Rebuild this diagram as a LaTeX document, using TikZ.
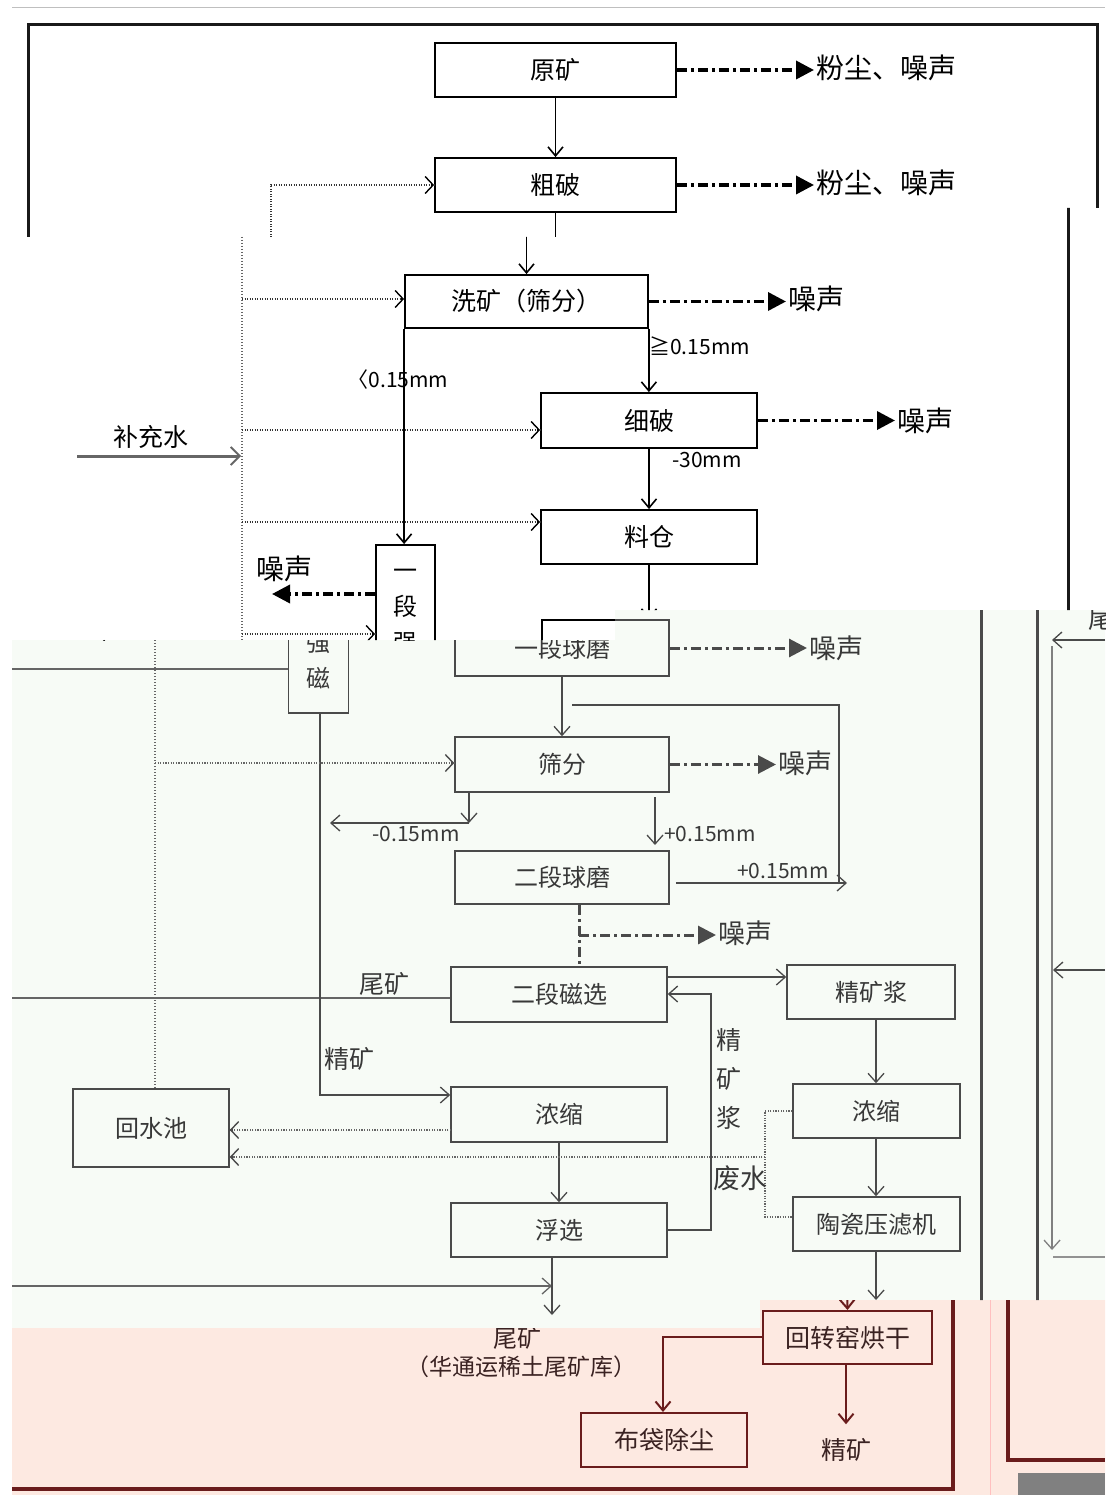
\documentclass[tikz,border=0pt]{standalone}
\usepackage{fontspec}
\newfontfamily\cjk{Noto Sans CJK SC}
\usetikzlibrary{arrows.meta}
\definecolor{bgC}{HTML}{F7FBF6}
\definecolor{bgD}{HTML}{FDE9E1}
\definecolor{gC}{HTML}{4A4A4A}
\definecolor{tC}{HTML}{383838}
\definecolor{rD}{HTML}{6A1C1C}
\definecolor{tD}{HTML}{3A2222}
\begin{document}
\begin{tikzpicture}[x=1pt,y=-1pt,
  bx/.style={draw, inner sep=0pt, align=center},
  bA/.style={bx, line width=1.8pt, font=\cjk\fontsize{25}{25}\selectfont},
  bAv/.style={bx, line width=1.8pt, font=\cjk\fontsize{24}{36}\selectfont},
  bC/.style={bx, line width=1.5pt, draw=gC, text=tC, font=\cjk\fontsize{24}{24}\selectfont},
  bCv/.style={bx, line width=1.5pt, draw=gC, text=tC, font=\cjk\fontsize{24}{36}\selectfont},
  bD/.style={bx, line width=2pt, draw=rD, text=tD, font=\cjk\fontsize{25}{25}\selectfont},
  lbA/.style={inner sep=0pt, font=\cjk\fontsize{25}{25}\selectfont},
  lbB/.style={inner sep=0pt, font=\cjk\fontsize{28}{28}\selectfont},
  lbS/.style={inner sep=0pt, font=\cjk\fontsize{21}{21}\selectfont},
  lbC/.style={inner sep=0pt, text=tC, font=\cjk\fontsize{25}{25}\selectfont},
  lbCb/.style={inner sep=0pt, text=tC, font=\cjk\fontsize{27}{27}\selectfont},
  lbCs/.style={inner sep=0pt, text=tC, font=\cjk\fontsize{21}{21}\selectfont},
  lbD/.style={inner sep=0pt, text=tD, font=\cjk\fontsize{24}{24}\selectfont},
  ar/.style={line width=1.6pt, -{Straight Barb[length=9pt,width=15pt]}},
  arC/.style={line width=1.3pt, draw=gC, -{Straight Barb[length=9pt,width=16pt]}},
  arD/.style={line width=2pt, draw=rD, -{Straight Barb[length=9pt,width=15pt]}},
  lnC/.style={line width=1.3pt, draw=gC},
  dd/.style={line width=3.5pt, dash pattern=on 10pt off 4pt on 3pt off 4pt,
     -{Triangle[length=18pt,width=18pt]}, shorten >=2pt},
  ddC/.style={line width=3pt, draw=gC, dash pattern=on 10pt off 4pt on 3pt off 4pt,
     -{Triangle[length=18pt,width=18pt,fill=gC]}, shorten >=2pt},
  ddL/.style={line width=3pt, draw=gC, dash pattern=on 10pt off 4pt on 3pt off 4pt},
  dtA/.style={line width=2.6pt, draw=black!80, dash pattern=on 1.2pt off 1.3pt},
  dtV/.style={line width=1.4pt, draw=black!60, dash pattern=on 1pt off 2pt},
  dtC/.style={line width=1.8pt, draw=gC!85, dash pattern=on 1.2pt off 1.4pt},
  dtip/.style={-{Straight Barb[length=8pt,width=17pt,line width=1.4pt]}},
  frame/.style={line width=3pt, draw=black!90},
  frameC/.style={line width=3pt, draw=gC},
  frameD/.style={line width=3.5pt, draw=rD}
]
\useasboundingbox (0,0) rectangle (1105,1495);
\fill[white] (0,0) rectangle (1105,1495);
\fill[bgC] (12,640) -- (615,640) -- (615,610) -- (1105,610) -- (1105,1300) -- (760,1300) -- (760,1328) -- (12,1328) -- cycle;
\fill[bgD] (12,1328) -- (760,1328) -- (760,1300) -- (1105,1300) -- (1105,1495) -- (12,1495) -- cycle;

% ---------------- band 1 ----------------
\begin{scope}
\clip (0,0) -- (1105,0) -- (1105,208) -- (680,208) -- (680,237) -- (0,237) -- cycle;
\coordinate (g1) at (12,8); \coordinate (g2) at (1105,8);
\draw[line width=1pt, black!25] (g1) -- (g2);
\coordinate (f1a) at (28,240); \coordinate (f1b) at (28,25);
\coordinate (f1c) at (1097,25); \coordinate (f1d) at (1097,240);
\draw[frame] (f1a) -- (f1b) -- (f1c) -- (f1d);
\node[bA, minimum width=241pt, minimum height=54pt] (yk) at (555.5,70) {原矿};
\node[bA, minimum width=241pt, minimum height=54pt] (cp) at (555.5,185) {粗破};
\node[bA, minimum width=243pt, minimum height=53pt] (xk1) at (555.5,301.5) {};
\node[lbB, anchor=west] (e1) at (816,68) {粉尘、噪声};
\node[lbB, anchor=west] (e2) at (816,183) {粉尘、噪声};
\draw[dd] (yk.east) -- (yk.east -| e1.west);
\draw[dd] (cp.east) -- (cp.east -| e2.west);
\draw[ar] (yk) -- (cp);
\draw[ar] (cp) -- (xk1);
\coordinate (w0) at (271,260);
\draw[dtA] (w0) |- (cp.west);
\draw[dtip, line width=1.4pt] ([xshift=-3pt]cp.west) -- (cp.west);
\end{scope}

% ---------------- band 2 ----------------
\begin{scope}
\clip (0,237) -- (680,237) -- (680,208) -- (1105,208) -- (1105,610) -- (615,610) -- (615,640) -- (0,640) -- cycle;
\coordinate (f2a) at (1068,25); \coordinate (f2b) at (1068,700);
\draw[frame] (f2a) -- (f2b);
\node[bA, minimum width=241pt, minimum height=54pt] (cp2) at (526.5,185) {};
\node[bA, minimum width=243pt, minimum height=53pt] (xk) at (526.5,301.5) {洗矿（筛分）};
\node[bA, minimum width=216pt, minimum height=55pt] (xp) at (649,420.5) {细破};
\node[bA, minimum width=216pt, minimum height=54pt] (lc) at (649,537) {料仓};
\node[bA, minimum width=214pt, minimum height=56pt] (qm2) at (649,648) {};
\node[bAv, minimum width=59pt, minimum height=168pt] (qc2) at (405.5,629) {一\\段\\强\\\phantom{磁}};
\draw[ar] (cp2) -- (xk);
\draw[ar] (xk.south east) -- (xk.south east |- xp.north);
\draw[ar] (xk.south west) -- (xk.south west |- qc2.north);
\draw[ar] (xp) -- (lc);
\draw[ar] (lc) -- (qm2);
\node[lbS, anchor=west] (l1) at (649,346) {≧0.15mm};
\node[lbS] (l2) at (398,380) {〈0.15mm};
\node[lbS, anchor=west] (l3) at (672,460) {-30mm};
\node[lbB, anchor=west] (e3) at (788,299) {噪声};
\node[lbB, anchor=west] (e4) at (897,421) {噪声};
\node[lbB] (e5) at (284,569) {噪声};
\draw[dd] (xk.east) -- (xk.east -| e3.west);
\draw[dd] (xp.east) -- (xp.east -| e4.west);
\coordinate (q5) at (270,594);
\draw[dd] (q5 -| qc2.west) -- (q5);
% dotted water supply
\coordinate (v2a) at (242,237); \coordinate (v2b) at (242,700);
\draw[dtV] (v2a) -- (v2b);
\coordinate (w1) at (242,299); \coordinate (w2) at (242,430);
\coordinate (w3) at (242,522); \coordinate (w4) at (242,634);
\draw[dtA] (w1) -- (w1 -| xk.west);
\draw[dtA] (w2) -- (w2 -| xp.west);
\draw[dtA] (w3) -- (w3 -| lc.west);
\draw[dtA] (w4) -- (w4 -| qc2.west);
\foreach \p/\n in {w1/xk, w2/xp, w3/lc, w4/qc2}
  \draw[dtip, line width=1.4pt] ([xshift=-3pt]\p -| \n.west) -- (\p -| \n.west);
\coordinate (bs1) at (77,456); \coordinate (bs2) at (241,456);
\draw[line width=3pt, black!60, -{Straight Barb[length=9pt,width=18pt,line width=1.8pt]}] (bs1) -- (bs2);
\node[lbA] (bsl) at (151,437) {补充水};
\node[lbA] (wk2) at (87,652) {尾矿};
\end{scope}

% ---------------- band 3 ----------------
\begin{scope}
\clip (12,640) -- (615,640) -- (615,610) -- (1105,610) -- (1105,1300) -- (760,1300) -- (760,1328) -- (12,1328) -- cycle;
\coordinate (f3a) at (981,500); \coordinate (f3b) at (981,1400);
\coordinate (f3c) at (1037,500); \coordinate (f3d) at (1037,1400);
\draw[frameC] (f3a) -- (f3b);
\draw[frameC] (f3c) -- (f3d);
\node[bCv, minimum width=60pt, minimum height=168pt] (qc3) at (318.5,629) {\phantom{一}\\\phantom{段}\\强\\磁};
\node[bC, minimum width=214pt, minimum height=56pt] (qm3) at (562,648) {一段球磨};
\node[bC, minimum width=214pt, minimum height=55pt] (sf) at (562,764.5) {筛分};
\node[bC, minimum width=214pt, minimum height=53pt] (eq) at (562,877.5) {二段球磨};
\node[bC, minimum width=216pt, minimum height=55pt] (ms) at (559,994.5) {二段磁选};
\node[bC, minimum width=168pt, minimum height=54pt] (jk) at (871,992) {精矿浆};
\node[bC, minimum width=167pt, minimum height=54pt] (nsR) at (876.5,1111) {浓缩};
\node[bC, minimum width=167pt, minimum height=54pt] (tc) at (876.5,1224) {陶瓷压滤机};
\node[bC, minimum width=216pt, minimum height=55pt] (nsL) at (559,1114.5) {浓缩};
\node[bC, minimum width=216pt, minimum height=54pt] (fx) at (559,1230) {浮选};
\node[bC, minimum width=156pt, minimum height=78pt] (hs) at (151,1128) {回水池};
% noise
\node[lbCb, anchor=west] (e6) at (809,648) {噪声};
\node[lbCb, anchor=west] (e7) at (778,763) {噪声};
\node[lbCb, anchor=west] (e8) at (718,933) {噪声};
\draw[ddC] (qm3.east) -- (qm3.east -| e6.west);
\draw[ddC] (sf.east) -- (sf.east -| e7.west);
\coordinate (k1) at (579,905); \coordinate (k2) at (579,935);
\draw[ddL] (eq.south -| k1) -- (ms.north -| k1);
\draw[ddC] (k2) -- (k2 -| e8.west);
% main flow
\draw[arC] (qm3) -- (sf);
\coordinate (m1) at (469,823); \coordinate (m2) at (330,823);
\draw[arC] (sf.south -| m1) -- (m1);
\draw[arC] (m1) -- (m2);
\node[lbCs] (l4) at (416,834) {-0.15mm};
\coordinate (m3) at (655,797); \coordinate (m4) at (655,845);
\draw[arC] (m3) -- (m4);
\node[lbCs, anchor=west] (l5) at (664,834) {+0.15mm};
\coordinate (r1) at (847,883);
\draw[arC] (r1 -| eq.east) ++(6,0) -- (r1);
\node[lbCs] (l6) at (783,871) {+0.15mm};
\coordinate (r2) at (839,884); \coordinate (r3) at (839,705); \coordinate (r4) at (572,705);
\draw[lnC] (r2) -- (r3) -- (r4);
% tailings
\coordinate (t1) at (12,669);
\draw[lnC, gC!85] (t1 -| qc3.west) -- (t1);
\node[lbC] (wk3) at (384,984) {尾矿};
\coordinate (t2) at (12,998);
\draw[lnC, gC!85] (t2 -| ms.west) -- (t2);
\coordinate (t3) at (12,1286); \coordinate (t4) at (552,1286);
\draw[arC, gC!85] (t3) -- (t4);
\coordinate (t5) at (552,1315);
\draw[arC] (fx.south -| t5) -- (t5);
% concentrate
\coordinate (c1) at (320,1095);
\draw[arC] (qc3.south -| c1) -- (c1) -- (c1 -| nsL.west);
\node[lbC] (l7) at (349,1059) {精矿};
\draw[arC] (nsL) -- (fx);
\coordinate (c2) at (711,1230); \coordinate (c3) at (711,994);
\draw[arC] (c2 -| fx.east) -- (c2) -- (c3) -- (c3 -| ms.east);
\node[lbC, align=center, font=\cjk\fontsize{25}{39}\selectfont] (l8) at (729,1079) {精\\矿\\浆};
\coordinate (c4) at (876,977);
\draw[arC] (ms.east |- c4) -- (c4 -| jk.west);
\coordinate (c5) at (876,1300);
\draw[arC] (jk.south -| c5) -- (nsR.north -| c5);
\draw[arC] (nsR.south -| c5) -- (tc.north -| c5);
\draw[arC] (tc.south -| c5) -- (c5);
% water
\coordinate (h1) at (155,640);
\draw[dtV] (h1) -- (hs.north -| h1);
\coordinate (h2) at (155,763);
\draw[dtC] (h2) -- (h2 -| sf.west);
\draw[dtip, line width=1.2pt, gC] ([xshift=-3pt]h2 -| sf.west) -- (h2 -| sf.west);
\coordinate (h3) at (765,1111); \coordinate (h4) at (765,1217); \coordinate (h5) at (765,1157);
\draw[dtC] (nsR.west |- h3) -- (h3) -- (h4) -- (h4 -| tc.west);
\draw[dtC] (h5) -- (h5 -| hs.east);
\draw[dtip, line width=1.2pt, gC] ([xshift=3pt]h5 -| hs.east) -- (h5 -| hs.east);
\coordinate (h6) at (451,1130);
\draw[dtC] (h6) -- (h6 -| hs.east);
\draw[dtip, line width=1.2pt, gC] ([xshift=3pt]h6 -| hs.east) -- (h6 -| hs.east);
\node[lbCb] (l9) at (740,1178) {废水};
% right margin
\coordinate (ra) at (1105,640); \coordinate (rb) at (1052,640);
\draw[arC] (ra) -- (rb);
\coordinate (rc) at (1052,646); \coordinate (rd) at (1052,1250);
\draw[arC, gC!70] (rc) -- (rd);
\coordinate (re) at (1105,970); \coordinate (rf) at (1053,970);
\draw[arC] (re) -- (rf);
\coordinate (rg) at (1053,1257); \coordinate (rh) at (1105,1257);
\draw[lnC, gC!60] (rg) -- (rh);
\node[lbC, anchor=west] (wk5) at (1088,620) {尾};
\end{scope}

% ---------------- band 4 ----------------
\begin{scope}
\clip (12,1328) -- (760,1328) -- (760,1300) -- (1105,1300) -- (1105,1495) -- (12,1495) -- cycle;
\node[lbD] (wk6) at (517,1338) {尾矿};
\node[lbD, font=\cjk\fontsize{23}{23}\selectfont] (kc) at (521,1367) {（华通运稀土尾矿库）};
\node[bD, minimum width=169pt, minimum height=53pt] (hz) at (847.5,1337.5) {回转窑烘干};
\node[bD, minimum width=166pt, minimum height=54pt] (bd) at (664,1440) {布袋除尘};
\node[lbD, font=\cjk\fontsize{25}{25}\selectfont] (jk4) at (846,1450) {精矿};
\coordinate (z1) at (847,1290);
\draw[arD] (z1) -- (hz.north);
\coordinate (z2) at (663,1337);
\draw[arD] (hz.west |- z2) -- (z2) -- (z2 |- bd.north);
\draw[arD] (hz.south -| jk4) -- ([yshift=14pt]jk4.north);
\coordinate (fd1) at (12,1489); \coordinate (fd2) at (953,1489); \coordinate (fd3) at (953,1290);
\draw[frameD] (fd1) -- (fd2) -- (fd3);
\coordinate (fd4) at (1008,1290); \coordinate (fd5) at (1008,1460); \coordinate (fd6) at (1105,1460);
\draw[frameD] (fd4) -- (fd5) -- (fd6);
\draw[line width=1pt, red!25] (990,1300) -- (990,1495);
\fill[black!50] (1018,1473) rectangle (1105,1495);
\end{scope}
\end{tikzpicture}
\end{document}
